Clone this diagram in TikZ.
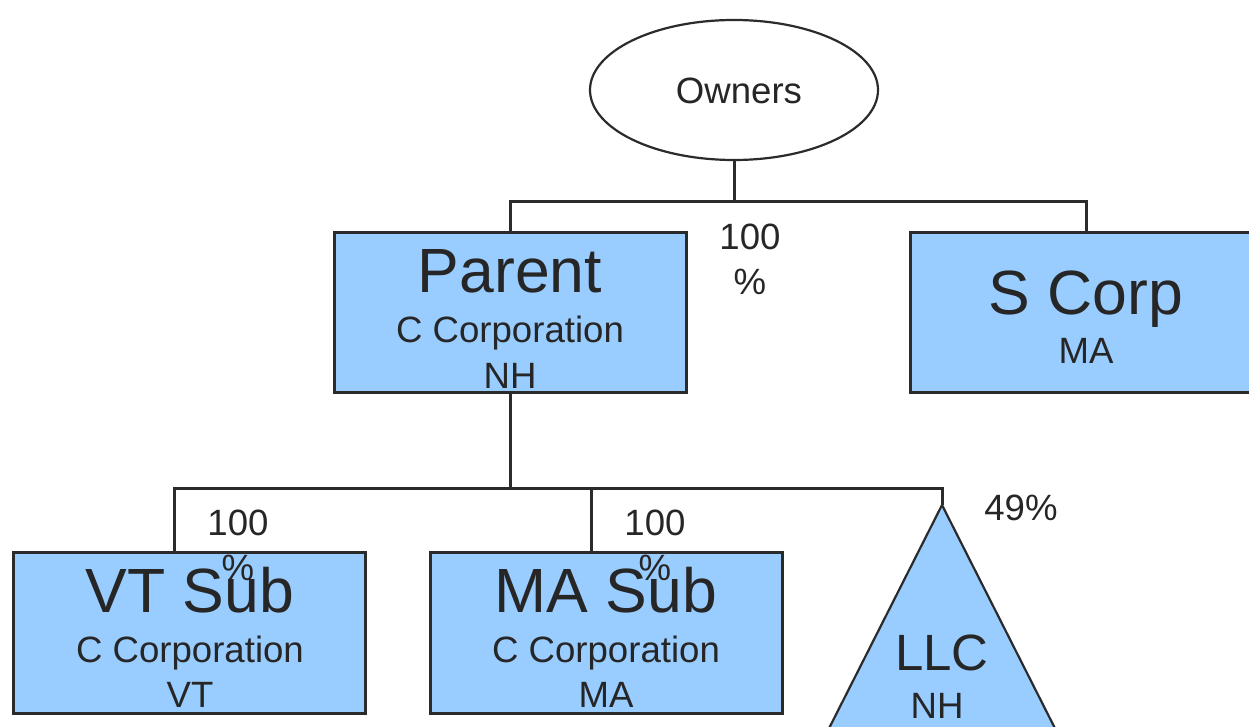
\documentclass[tikz,border=0pt]{standalone}
\usepackage{fontspec}
\setmainfont{Liberation Sans}
\usetikzlibrary{shapes.geometric}
\definecolor{boxfill}{HTML}{99CCFF}
\definecolor{ink}{HTML}{2B2B2B}
\definecolor{txt}{HTML}{262626}
\begin{document}
\begin{tikzpicture}[x=1pt,y=-1pt,
  entbox/.style={draw=ink, line width=3pt, fill=boxfill, rectangle, inner sep=0pt, minimum width=352pt},
  conn/.style={draw=ink, line width=3pt},
  bigtxt/.style={font=\fontsize{62.5}{70}\selectfont, text=txt, anchor=base, inner sep=0pt},
  smalltxt/.style={font=\fontsize{36.6}{45}\selectfont, text=txt, anchor=base, inner sep=0pt},
  pct/.style={font=\fontsize{36.6}{45}\selectfont, text=txt, anchor=base, inner sep=0pt, align=center}
]
\useasboundingbox (0,0) rectangle (1249,727);
\clip (0,0) rectangle (1249,727);

% shapes
\node[ellipse, draw=ink, line width=2.2pt, fill=white, minimum width=288pt, minimum height=140pt, inner sep=0pt] (owners) at (734,90) {};
\node[entbox, minimum height=159pt] (parent) at (510,312.5) {};
\node[entbox, minimum height=159pt] (scorp) at (1086,312.5) {};
\node[entbox, minimum height=161pt] (vtsub) at (189.5,632.5) {};
\node[entbox, minimum height=161pt] (masub) at (606,632.5) {};
\coordinate (llc) at (942,505);
\coordinate (llcl) at (813,760);
\coordinate (llcr) at (1071,760);
\draw[draw=ink, line width=2.2pt, fill=boxfill, line join=miter] (llc) -- (llcl) -- (llcr) -- cycle;

% connectors
\coordinate (bus1) at (734,202);
\coordinate (bus2) at (510,488);
\coordinate (vtin) at (174,552);
\coordinate (main) at (591,552);
\draw[conn] (owners.south) -- (owners.south |- bus1);
\draw[conn] (parent.north) |- (bus1) -| (scorp.north);
\draw[conn] (parent.south) -- (bus2);
\draw[conn] (vtin) |- (bus2) -| (llc);
\draw[conn] (main) -- (main |- bus2);

% texts
\node[smalltxt] (towners) at (739,104) {Owners};
\node[bigtxt] (tparent) at (510,292) {Parent};
\node[smalltxt] (tparent2) at (510,342) {C Corporation};
\node[smalltxt] (tparent3) at (510,388) {NH};
\node[bigtxt] (tscorp) at (1086,314) {S Corp};
\node[smalltxt] (tscorp2) at (1086,363) {MA};
\node[bigtxt] (tvt) at (190,612) {VT Sub};
\node[smalltxt] (tvt2) at (190,662) {C Corporation};
\node[smalltxt] (tvt3) at (190,707) {VT};
\node[bigtxt] (tma) at (606,612) {MA Sub};
\node[smalltxt] (tma2) at (606,662) {C Corporation};
\node[smalltxt] (tma3) at (606,707) {MA};
\node[bigtxt, font=\fontsize{51}{60}\selectfont] (tllc) at (942,670) {LLC};
\node[smalltxt] (tllc2) at (937,718) {NH};

% percentages (anchor at the baseline of the last line)
\node[pct] (p1) at (750,294) {100\\\%};
\node[pct] (p2) at (238,580) {100\\\%};
\node[pct] (p3) at (655,580) {100\\\%};
\node[smalltxt] (p4) at (1021,520) {49\%};
\end{tikzpicture}
\end{document}
